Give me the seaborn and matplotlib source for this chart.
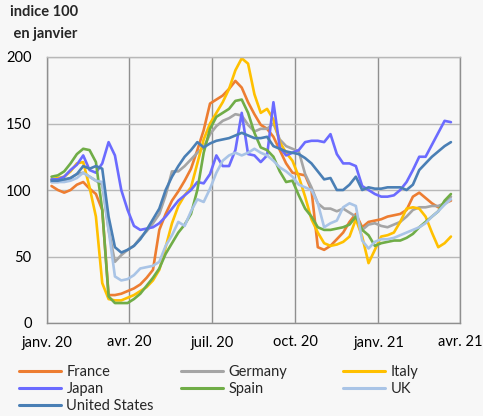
import numpy as np
import pandas as pd
import matplotlib
matplotlib.use("Agg")
import matplotlib.pyplot as plt
from matplotlib.lines import Line2D
import seaborn as sns

# ------------------------------------------
# DATA (weekly index, 100 = January)
# ------------------------------------------
dates = pd.date_range("2020-01-06", periods=64, freq="7D")

france = [103, 100, 98, 100, 104, 106, 101, 97, 85, 21,
          21, 22, 24, 26, 29, 34, 40, 70, 82, 92,
          99, 107, 116, 130, 145, 165, 168, 171, 176, 182,
          177, 166, 157, 149, 146, 140, 130, 120, 113, 112,
          111, 100, 57, 55, 58, 63, 68, 76, 82, 72,
          76, 77, 78, 80, 81, 82, 85, 95, 98, 94,
          90, 87, 90, 92]
germany = [106, 106, 107, 109, 112, 113, 110, 107, 104, 70,
           46, 51, 55, 58, 64, 69, 75, 82, 96, 114,
           114, 118, 123, 128, 132, 142, 148, 152, 154, 157,
           156, 149, 144, 146, 146, 150, 138, 133, 131, 129,
           112, 102, 90, 86, 86, 84, 86, 83, 80, 70,
           74, 75, 73, 72, 74, 76, 80, 85, 87, 87,
           88, 88, 90, 95]
italy = [108, 109, 110, 114, 120, 121, 102, 80, 30, 18,
         17, 17, 19, 21, 24, 27, 32, 40, 57, 75,
         88, 96, 102, 120, 138, 150, 158, 166, 176, 190,
         199, 195, 172, 158, 161, 153, 136, 128, 122, 110,
         95, 78, 68, 60, 58, 59, 61, 65, 78, 65,
         45, 55, 65, 66, 68, 76, 86, 87, 86, 80,
         68, 57, 60, 65]
japan = [108, 108, 110, 115, 119, 126, 115, 113, 120, 136,
         126, 100, 85, 73, 70, 71, 72, 75, 80, 86,
         92, 96, 100, 106, 105, 112, 126, 118, 118, 130,
         158, 127, 126, 121, 126, 166, 132, 126, 128, 130,
         136, 137, 137, 136, 142, 127, 120, 120, 118, 103,
         100, 97, 95, 95, 96, 100, 106, 115, 125, 125,
         134, 143, 152, 151]
spain = [110, 111, 114, 120, 127, 131, 130, 121, 85, 20,
         15, 15, 15, 18, 22, 28, 34, 41, 52, 60,
         68, 74, 82, 100, 128, 146, 155, 158, 161, 167,
         168, 158, 143, 132, 130, 125, 114, 106, 107, 96,
         86, 80, 72, 70, 70, 71, 72, 74, 80, 70,
         66, 58, 60, 61, 62, 62, 64, 67, 72, 76,
         80, 84, 92, 97]
uk = [106, 106, 106, 107, 109, 113, 110, 107, 106, 70,
      35, 32, 33, 36, 41, 42, 43, 46, 58, 66,
      76, 73, 84, 93, 91, 101, 113, 122, 126, 128,
      126, 128, 131, 128, 126, 122, 117, 114, 110, 104,
      102, 100, 90, 72, 75, 77, 87, 90, 88, 62,
      56, 61, 63, 63, 64, 66, 68, 70, 72, 75,
      80, 84, 89, 93]
us = [107, 107, 108, 109, 112, 118, 116, 118, 116, 80,
      57, 53, 55, 58, 63, 70, 78, 86, 100, 110,
      118, 125, 130, 136, 132, 135, 137, 138, 139, 141,
      143, 141, 139, 139, 140, 133, 131, 129, 128, 127,
      124, 120, 114, 108, 109, 100, 100, 104, 110, 100,
      102, 101, 101, 102, 102, 102, 100, 104, 115, 120,
      125, 129, 133, 136]

countries = ["France", "Germany", "Italy", "Japan", "Spain", "UK", "United States"]
colors = ["#ed7d31", "#a5a5a5", "#ffc000", "#6b6bff", "#70ad47", "#a9c4e6", "#4a7fb5"]

tick_dates = ["2020-01-01", "2020-04-01", "2020-07-01", "2020-10-01", "2021-01-01", "2021-04-01"]
tick_labels = ["janv. 20", "avr. 20", "juil. 20", "oct. 20", "janv. 21", "avr. 21"]

series = [france, germany, italy, japan, spain, uk, us]
df = pd.DataFrame({
    "date": np.tile(dates, len(countries)),
    "country": np.repeat(countries, len(dates)),
    "value": np.concatenate(series),
})
palette = dict(zip(countries, colors))

# ------------------------------------------
# PLOT
# ------------------------------------------
BG = "#f7f7f7"
sns.set_theme(style="white")
plt.rcParams["font.family"] = ["Lato", "DejaVu Sans"]

fig = plt.figure(figsize=(4.83, 4.16), dpi=100, facecolor=BG)
ax = fig.add_axes([47 / 483, 1 - 323 / 416, 413 / 483, 266 / 416])
ax.set_facecolor(BG)

sns.lineplot(data=df, x="date", y="value", hue="country", hue_order=countries,
             palette=palette, linewidth=1.9, legend=False, ax=ax)

ax.set_xlim(pd.Timestamp("2020-01-01"), pd.Timestamp("2021-04-01"))
ax.set_ylim(0, 200)
ax.set_xticks(pd.to_datetime(tick_dates))
ax.set_xticklabels(tick_labels)
ax.set_yticks([0, 50, 100, 150, 200])
ax.set_xlabel("")
ax.set_ylabel("")
ax.tick_params(length=0, labelsize=10.5, colors="black")
ax.tick_params(axis="x", pad=9)
ax.tick_params(axis="y", pad=11)

ax.set_axisbelow(True)
ax.grid(axis="x", color="#8f8f8f", linewidth=1)
ax.grid(axis="y", color="#b8b8b8", linewidth=1)
for side, sp in ax.spines.items():
    sp.set_color("#8f8f8f" if side in ("left", "right", "bottom") else "#b8b8b8")
    sp.set_linewidth(1)

fig.text(10 / 483, 1 - 5 / 416, "indice 100", fontsize=10.5, fontweight="bold",
         ha="left", va="top")
fig.text(10 / 483, 1 - 27 / 416, " en janvier", fontsize=10.5, fontweight="bold",
         ha="left", va="top")

# legend: three columns of equal width, filled row by row
columns = [["France", "Japan", "United States"], ["Germany", "Spain"], ["Italy", "UK"]]
for xpx, names in zip([19, 181, 343], columns):
    handles = [Line2D([], [], color=palette[n], linewidth=2.2) for n in names]
    fig.legend(handles, names, loc="upper left", bbox_to_anchor=(xpx / 483, 1 - 365 / 416),
               frameon=False, fontsize=10.5, handlelength=2.9, handletextpad=0.35,
               labelspacing=0.22, borderpad=0, borderaxespad=0)

fig.savefig("out.png", dpi=100, facecolor=BG)
